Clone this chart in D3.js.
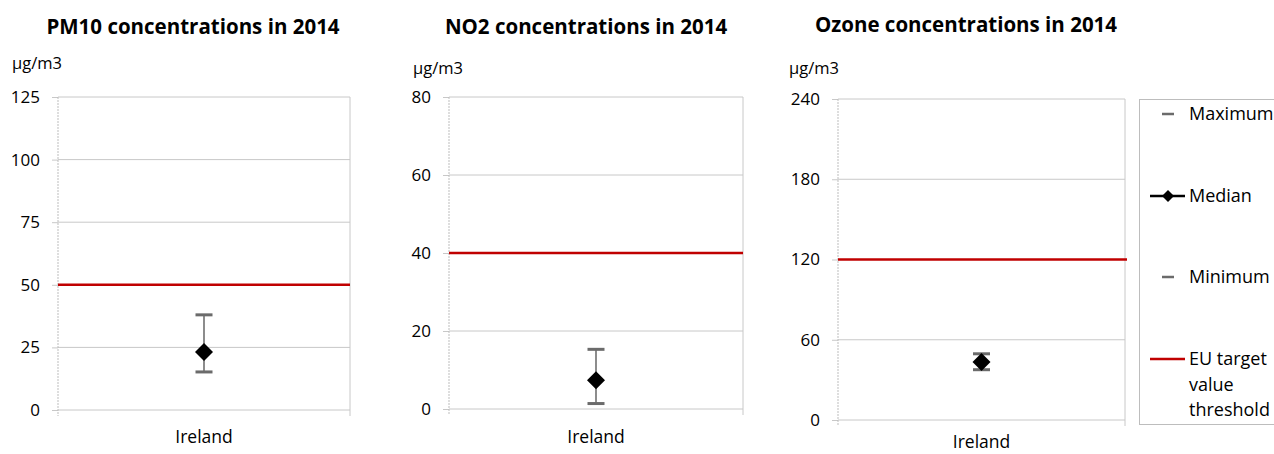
<!DOCTYPE html>
<html>
<head>
<meta charset="utf-8">
<script src="https://cdn.jsdelivr.net/npm/d3@7"></script>
<style>
  html, body { margin: 0; padding: 0; background: #fff; }
  svg { display: block; font-family: "Open Sans", sans-serif; }
</style>
</head>
<body>
<svg id="chart" width="1274" height="454"></svg>
<script>
// ---- Data ----
const categories = ["Ireland"];
const titles = ["PM10 concentrations in 2014", "NO2 concentrations in 2014", "Ozone concentrations in 2014"];
const unitLabel = "µg/m3";
const maxValues = [38, 15.3, 49.5];
const medianValues = [23.2, 7.4, 43.3];
const minValues = [15.2, 1.4, 37.6];
const thresholds = [50, 40, 120];
const yMaxes = [125, 80, 240];
const yTickValues = [[0, 25, 50, 75, 100, 125], [0, 20, 40, 60, 80], [0, 60, 120, 180, 240]];
const legendLabels = ["Maximum", "Median", "Minimum", "EU target value threshold"];

// ---- Layout ----
const panels = [
  { left: 58, right: 350, top: 97, bottom: 410, titleX: 193, titleY: 34, unitX: 12, unitY: 69, catY: 443 },
  { left: 449, right: 743, top: 97, bottom: 409, titleX: 586, titleY: 34, unitX: 413, unitY: 74, catY: 443 },
  { left: 838, right: 1125, top: 99, bottom: 420, titleX: 966, titleY: 32, unitX: 789, unitY: 74, catY: 448 }
];

const svg = d3.select("#chart");
const gridColor = "#c8c8c8";
const capColor = "#6b6b6b";
const red = "#c00000";

panels.forEach((p, i) => {
  const g = svg.append("g");
  const y = d3.scaleLinear().domain([0, yMaxes[i]]).range([p.bottom, p.top]);
  const x = d3.scaleBand().domain(categories).range([p.left, p.right]);

  // title
  g.append("text").attr("x", p.titleX).attr("y", p.titleY)
    .attr("text-anchor", "middle").attr("font-size", 20.5).attr("font-weight", "bold")
    .attr("fill", "#000").text(titles[i]);
  // unit
  g.append("text").attr("x", p.unitX).attr("y", p.unitY)
    .attr("font-size", 16.5).attr("fill", "#000").text(unitLabel);

  // gridlines
  g.selectAll(".grid").data(yTickValues[i]).join("line")
    .attr("x1", p.left).attr("x2", p.right)
    .attr("y1", d => y(d)).attr("y2", d => y(d))
    .attr("stroke", gridColor).attr("stroke-width", 1);

  // y axis
  const yAxis = d3.axisLeft(y).tickValues(yTickValues[i]).tickSize(6).tickPadding(12).tickFormat(d3.format("d"));
  const ya = g.append("g").attr("transform", `translate(${p.left},0)`).call(yAxis);
  ya.select(".domain").remove();
  ya.selectAll(".tick line").attr("stroke", gridColor);
  ya.selectAll(".tick text").attr("font-size", 17).attr("fill", "#000").attr("font-family", "Open Sans, sans-serif");
  // left dashed axis line
  g.append("line").attr("x1", p.left).attr("x2", p.left).attr("y1", p.top).attr("y2", p.bottom + 6)
    .attr("stroke", "#bdbdbd").attr("stroke-dasharray", "2,1");
  // right border
  g.append("line").attr("x1", p.right).attr("x2", p.right).attr("y1", p.top).attr("y2", p.bottom + 6)
    .attr("stroke", gridColor);

  // category label
  g.append("text").attr("x", x(categories[0]) + x.bandwidth() / 2).attr("y", p.catY)
    .attr("text-anchor", "middle").attr("font-size", 17.5).attr("fill", "#000").text(categories[0]);

  // threshold line
  g.append("line").attr("x1", p.left).attr("x2", p.right + (i === 2 ? 2 : 0))
    .attr("y1", y(thresholds[i])).attr("y2", y(thresholds[i]))
    .attr("stroke", red).attr("stroke-width", 2.5);

  // error bar
  categories.forEach(c => {
    const cx = x(c) + x.bandwidth() / 2;
    g.append("line").attr("x1", cx).attr("x2", cx)
      .attr("y1", y(maxValues[i])).attr("y2", y(minValues[i]))
      .attr("stroke", "#404040").attr("stroke-width", 1.2);
    [maxValues[i], minValues[i]].forEach(v => {
      g.append("line").attr("x1", cx - 8.5).attr("x2", cx + 8.5)
        .attr("y1", y(v)).attr("y2", y(v))
        .attr("stroke", capColor).attr("stroke-width", 3);
    });
    const my = y(medianValues[i]);
    g.append("path")
      .attr("d", `M${cx},${my - 9}L${cx + 9},${my}L${cx},${my + 9}L${cx - 9},${my}Z`)
      .attr("fill", "#000");
  });
});

// ---- Legend ----
const leg = svg.append("g");
leg.append("rect").attr("x", 1139.5).attr("y", 99.5).attr("width", 140).attr("height", 325)
  .attr("fill", "#fff").attr("stroke", "#bdbdbd");
const legY = [114, 196, 277, 359];
const textX = 1189;
const legFont = 18;
// Maximum
leg.append("line").attr("x1", 1162).attr("x2", 1174).attr("y1", legY[0]).attr("y2", legY[0])
  .attr("stroke", capColor).attr("stroke-width", 2.5);
leg.append("text").attr("x", textX).attr("y", legY[0]).attr("dy", "0.35em").attr("font-size", legFont).text(legendLabels[0]);
// Median
leg.append("line").attr("x1", 1150).attr("x2", 1185).attr("y1", legY[1]).attr("y2", legY[1])
  .attr("stroke", "#000").attr("stroke-width", 2.5);
leg.append("path").attr("d", `M1168,${legY[1] - 6}L1174,${legY[1]}L1168,${legY[1] + 6}L1162,${legY[1]}Z`).attr("fill", "#000");
leg.append("text").attr("x", textX).attr("y", legY[1]).attr("dy", "0.35em").attr("font-size", legFont).text(legendLabels[1]);
// Minimum
leg.append("line").attr("x1", 1162).attr("x2", 1174).attr("y1", legY[2]).attr("y2", legY[2])
  .attr("stroke", capColor).attr("stroke-width", 2.5);
leg.append("text").attr("x", textX).attr("y", legY[2]).attr("dy", "0.35em").attr("font-size", legFont).text(legendLabels[2]);
// EU target
leg.append("line").attr("x1", 1150).attr("x2", 1185).attr("y1", legY[3]).attr("y2", legY[3])
  .attr("stroke", red).attr("stroke-width", 2.5);
const euText = leg.append("text").attr("x", textX).attr("y", legY[3]).attr("font-size", legFont);
["EU target", "value", "threshold"].forEach((t, k) => {
  euText.append("tspan").attr("x", textX).attr("dy", k === 0 ? "0.35em" : "25.5").text(t);
});
</script>
</body>
</html>
